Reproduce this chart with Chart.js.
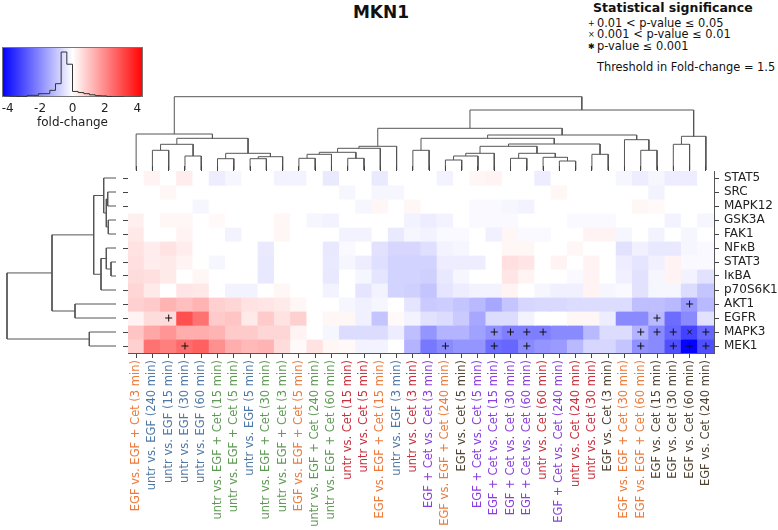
<!DOCTYPE html>
<html>
<head>
<meta charset="utf-8">
<script src="https://cdn.jsdelivr.net/npm/chart.js@4.4.0/dist/chart.umd.min.js"></script>
<style>
  body { margin: 0; width: 778px; height: 530px; background: #fff; position: relative; overflow: hidden; font-family: "DejaVu Sans", sans-serif; }
  canvas { position: absolute; }
  .txt { position: absolute; white-space: nowrap; color: #111; }
  .mk { display: inline-block; width: 9px; font-size: 8px; text-align: left; vertical-align: 1px; }
</style>
</head>
<body>

<div class="txt" style="left:331px; top:2px; width:100px; text-align:center; font-weight:bold; font-size:17px; line-height:20px;">MKN1</div>

<div class="txt" style="left:593px; top:0px; font-weight:bold; font-size:12.5px; line-height:15px;">Statistical significance</div>
<div class="txt" style="left:588px; top:16px; font-size:11.4px; line-height:14px;"><span class="mk">+</span>0.01 &lt; p-value ≤ 0.05</div>
<div class="txt" style="left:588px; top:27px; font-size:11.4px; line-height:14px;"><span class="mk">×</span>0.001 &lt; p-value ≤ 0.01</div>
<div class="txt" style="left:588px; top:38.5px; font-size:11.4px; line-height:14px;"><span class="mk">✱</span>p-value ≤ 0.001</div>
<div class="txt" style="left:597px; top:59.5px; font-size:11.4px; line-height:14px;">Threshold in Fold-change = 1.5</div>

<canvas id="colorbar" width="160" height="95" style="left:0px; top:40px;"></canvas>
<canvas id="topDendro" width="586" height="80" style="left:128px; top:90px;"></canvas>
<canvas id="leftDendro" width="116" height="182" style="left:0px; top:171px;"></canvas>
<canvas id="heatmap" width="658" height="367" style="left:120px; top:163px;"></canvas>

<script>
/* ===== DATA ===== */
const colLabels = [
  "EGF vs. EGF + Cet (3 min)", "untr vs. EGF (240 min)", "untr vs. EGF (15 min)", "untr vs. EGF (30 min)",
  "untr vs. EGF (60 min)", "untr vs. EGF + Cet (15 min)", "untr vs. EGF + Cet (5 min)", "untr vs. EGF (5 min)",
  "untr vs. EGF + Cet (30 min)", "untr vs. EGF + Cet (3 min)", "EGF vs. EGF + Cet (5 min)", "untr vs. EGF + Cet (240 min)",
  "untr vs. EGF + Cet (60 min)", "untr vs. Cet (15 min)", "untr vs. Cet (5 min)", "EGF vs. EGF + Cet (15 min)",
  "untr vs. EGF (3 min)", "untr vs. Cet (3 min)", "EGF + Cet vs. Cet (3 min)", "EGF vs. EGF + Cet (240 min)",
  "EGF vs. Cet (5 min)", "EGF + Cet vs. Cet (5 min)", "EGF + Cet vs. Cet (15 min)", "EGF + Cet vs. Cet (30 min)",
  "EGF + Cet vs. Cet (60 min)", "untr vs. Cet (60 min)", "EGF + Cet vs. Cet (240 min)", "untr vs. Cet (240 min)",
  "untr vs. Cet (30 min)", "EGF vs. Cet (3 min)", "EGF vs. EGF + Cet (30 min)", "EGF vs. EGF + Cet (60 min)",
  "EGF vs. Cet (15 min)", "EGF vs. Cet (30 min)", "EGF vs. Cet (60 min)", "EGF vs. Cet (240 min)"
];

const rowNames = ["STAT5", "SRC", "MAPK12", "GSK3A", "FAK1", "NFκB", "STAT3", "IκBA", "p70S6K1", "AKT1", "EGFR", "MAPK3", "MEK1"];

// fold-change per row (STAT5 ... MEK1), 36 columns each
const stat5   = [0, 0.2, 0, 0.3, 0, -0.3, -0.15, 0, 0, -0.2, -0.2, 0, -0.35, 0, 0, -0.35, 0, 0, 0, -0.2, 0, 0.15, 0.2, 0, 0, -0.3, 0, 0, 0, 0, -0.15, -0.3, -0.15, -0.3, -0.3, 0];
const src     = [0, 0, 0.15, 0, 0, 0, 0, 0, 0, 0, 0, 0, 0, -0.15, 0, -0.15, -0.15, 0, 0, 0, 0, 0, 0, 0, 0, 0, 0.15, 0, 0, 0, 0, 0, -0.2, 0, 0, 0];
const mapk12  = [0, 0, 0, 0, -0.15, 0, 0, 0, 0, 0, 0, 0, 0, 0, -0.15, 0.15, 0, 0.15, 0, 0, 0, -0.1, -0.1, -0.15, -0.2, 0, 0, 0, 0, 0, 0, 0.15, 0.1, 0, 0, 0];
const gsk3a   = [0.25, 0, 0.15, 0.15, 0, 0.1, 0, 0, 0, 0.15, 0, -0.15, -0.2, 0, 0, 0, 0, -0.2, -0.3, -0.2, 0, -0.1, -0.1, -0.1, 0, 0, 0, -0.1, -0.1, -0.1, 0, 0, 0, -0.2, 0, -0.15];
const fak1    = [0.4, 0, 0, 0.2, 0, 0, -0.2, 0, 0, 0.15, 0, 0, 0, -0.2, -0.2, 0, -0.35, -0.15, -0.2, -0.1, -0.1, 0, -0.25, 0.15, -0.1, -0.1, 0, 0, 0.2, 0.2, -0.15, 0, -0.2, 0, -0.15, 0];
const nfkb    = [0.5, 0.3, 0.5, 0.3, 0, 0, 0, 0, -0.35, 0, 0, 0, -0.4, -0.1, 0, -0.5, -0.7, -0.7, -0.55, -0.2, -0.15, 0, 0, 0.15, 0.15, 0, 0, 0.15, 0, 0, -0.5, -0.25, -0.4, -0.4, -0.15, -0.1];
const stat3   = [0.55, 0.3, 0.35, 0.2, 0, -0.15, 0, 0, -0.4, 0, 0, 0, -0.35, -0.15, -0.3, -0.55, -0.75, -0.75, -0.75, -0.3, -0.3, -0.3, 0, 0.55, 0.45, 0, 0.2, 0, 0.2, 0, -0.3, -0.45, -0.25, 0.2, -0.1, -0.1];
const ikba    = [0.6, 0.55, 0.35, 0, 0.15, 0, 0, 0, -0.4, 0, 0, 0, -0.4, 0, -0.15, -0.45, -0.75, -0.75, -0.8, -0.4, -0.15, 0, 0, 0.45, 0.2, 0, 0, -0.1, 0.2, 0, -0.25, -0.5, -0.15, 0.2, -0.2, -0.5];
const p70s6k1 = [0.7, 0.35, 0, 0.45, 0.4, 0, -0.2, -0.2, 0, 0.15, 0, 0, -0.2, 0, -0.45, -0.2, -0.75, -0.8, -1.0, -0.45, -0.3, -0.2, -0.2, 0.2, 0, -0.15, -0.25, -0.25, 0.2, -0.15, -0.1, -0.5, -0.15, -0.15, -0.6, -1.0];
const akt1    = [0.8, 0.9, 1.3, 1.1, 1.3, 0.8, 0.7, 0.5, 0.45, 0.35, 0.15, 0, 0, -0.15, -0.25, -0.15, 0, -0.45, -0.9, -0.85, -1.0, -1.2, -1.5, -1.0, -0.7, -0.65, -0.65, -0.6, -0.6, -0.6, -0.6, -1.1, -1.1, -1.2, -1.7, -1.2];
const egfr    = [0.2, 0.6, 0.6, 3.0, 2.4, 0.9, 1.0, 0.35, 0.9, 0.5, 0.8, 0, 0.15, 0.15, -0.25, -1.0, 0.1, -0.2, -0.5, -0.6, -0.9, -1.5, -0.6, -0.6, -0.2, 0, 0, 0.15, 0.15, -0.3, -2.0, -2.0, -1.2, -2.5, -2.0, -0.5];
const mapk3   = [1.0, 1.5, 1.8, 1.4, 1.4, 1.3, 0.9, 0.9, 0.7, 0.7, 0.2, 0, -0.15, -0.6, -0.6, -0.6, -0.3, -1.1, -1.8, -1.3, -1.3, -1.6, -1.9, -2.2, -2.2, -2.2, -2.0, -2.0, -1.2, -0.6, -0.6, -1.3, -2.0, -2.6, -3.2, -2.6];
const mek1    = [0.8, 2.4, 2.2, 2.5, 2.7, 1.9, 1.4, 1.2, 1.3, 0.6, 0.1, 0.5, 0.15, 0.1, -0.2, -0.2, 0, -1.3, -2.3, -2.0, -1.8, -1.8, -2.5, -2.6, -2.0, -1.8, -1.7, -1.2, -0.7, -0.7, -1.0, -1.9, -2.0, -3.0, -4.3, -3.0];
const heatValues = [stat5, src, mapk12, gsk3a, fak1, nfkb, stat3, ikba, p70s6k1, akt1, egfr, mapk3, mek1];

// significant cells as [row, column]
const sigPlus = [[10, 2], [12, 3], [12, 19], [11, 22], [12, 22], [11, 23], [11, 24], [12, 24], [11, 25],
                 [11, 31], [12, 31], [10, 32], [11, 32], [11, 33], [12, 33], [9, 34], [12, 34], [11, 35], [12, 35]];
const sigCross = [[11, 34]];

// column dendrogram: [child a, child b, height]; ids >= 36 are earlier merges
const colMerges = [
  [1, 2, 1.97], [3, 4, 1.40], [36, 37, 2.57], [5, 6, 1.13], [7, 8, 1.13], [40, 9, 1.33], [39, 41, 1.67],
  [38, 42, 3.17], [0, 43, 3.60], [10, 11, 1.17], [45, 12, 1.57], [13, 14, 1.17], [46, 47, 1.77],
  [48, 15, 2.17], [49, 16, 2.37], [17, 18, 1.97], [19, 20, 1.00], [52, 21, 1.40], [53, 22, 1.67],
  [23, 24, 1.17], [26, 27, 0.90], [25, 56, 1.27], [55, 57, 1.67], [54, 58, 2.37], [28, 29, 1.57],
  [59, 60, 2.60], [51, 61, 3.17], [31, 32, 1.97], [30, 63, 3.03], [62, 64, 3.50], [50, 65, 4.17],
  [33, 34, 2.57], [67, 35, 3.37], [66, 68, 6.00], [44, 69, 7.33]
];

// row dendrogram: ids >= 13 are earlier merges
const rowMerges = [
  [1, 2, 0.83], [3, 4, 0.77], [13, 14, 0.97], [0, 15, 1.23], [6, 7, 0.50], [5, 17, 0.97],
  [18, 8, 1.50], [16, 19, 2.23], [9, 10, 4.10], [20, 21, 6.40], [11, 12, 2.67], [22, 23, 10.90]
];

// histogram of fold-changes on the colour bar
const histEdges = [-4.2, -3.85, -3.5, -3.15, -2.8, -2.45, -2.1, -1.75, -1.4, -1.05, -0.7, -0.35, 0,
                   0.35, 0.7, 1.05, 1.4, 1.75, 2.1, 2.45, 2.8, 3.15, 3.5, 3.85, 4.2];
const histCounts = [0, 0, 1, 2, 2, 6, 6, 12, 12, 24, 48, 162, 118, 20, 16, 12, 8, 5, 4, 2, 1, 1, 0, 0];
const cbTicks = [-4, -2, 0, 2, 4];

/* ===== STYLE ===== */
const fcMax = 4.35;
const groupColors = {
  "EGF vs. EGF + Cet": "#ec7a3c",
  "untr vs. EGF": "#4e79a7",
  "untr vs. EGF + Cet": "#5f9a55",
  "untr vs. Cet": "#c8313d",
  "EGF + Cet vs. Cet": "#8a3de0",
  "EGF vs. Cet": "#4f4232"
};
const lineGray = "#555";

Chart.defaults.font.family = "'DejaVu Sans', sans-serif";
Chart.defaults.animation = false;
Chart.defaults.plugins.legend.display = false;
Chart.defaults.plugins.tooltip.enabled = false;

// blue - white - red, like matplotlib bwr
function fcColor(v) {
  const t = Math.max(-1, Math.min(1, v / fcMax));
  const k = Math.round(255 * (1 - Math.abs(t)));
  return t >= 0 ? `rgb(255,${k},${k})` : `rgb(${k},${k},255)`;
}

function labelColor(label) {
  return groupColors[label.slice(0, label.indexOf(" ("))] || "#222";
}

/* ===== DENDROGRAM LINKS ===== */
function dendroLinks(merges, leafCount) {
  const pos = [], hgt = [];
  for (let i = 0; i < leafCount; i++) { pos.push(i + 0.5); hgt.push(0); }
  return merges.map(([a, b, h]) => {
    const link = [[pos[a], hgt[a]], [pos[a], h], [pos[b], h], [pos[b], hgt[b]]];
    pos.push((pos[a] + pos[b]) / 2);
    hgt.push(h);
    return link;
  });
}

const noPad = s => { s.paddingLeft = 0; s.paddingRight = 0; s.paddingTop = 0; s.paddingBottom = 0; };

/* ===== TOP DENDROGRAM ===== */
new Chart(document.getElementById("topDendro"), {
  type: "scatter",
  data: {
    datasets: dendroLinks(colMerges, colLabels.length).map(link => ({
      data: link.map(([p, h]) => ({ x: p, y: h })),
      showLine: true, pointRadius: 0, borderColor: lineGray, borderWidth: 1, clip: false
    }))
  },
  options: {
    responsive: false,
    layout: { padding: 0, autoPadding: false },
    scales: {
      x: { type: "linear", min: 0, max: colLabels.length, display: false },
      y: { type: "linear", min: 0, max: 8, display: false }
    }
  }
});

/* ===== LEFT DENDROGRAM ===== */
new Chart(document.getElementById("leftDendro"), {
  type: "scatter",
  data: {
    datasets: dendroLinks(rowMerges, rowNames.length).map(link => ({
      data: link.map(([p, h]) => ({ x: h, y: p })),
      showLine: true, pointRadius: 0, borderColor: lineGray, borderWidth: 1, clip: false
    }))
  },
  options: {
    responsive: false,
    layout: { padding: 0, autoPadding: false },
    scales: {
      x: { type: "linear", min: 0, max: 11.6, reverse: true, display: false },
      y: { type: "linear", min: 0, max: rowNames.length, reverse: true, display: false }
    }
  }
});

/* ===== HEATMAP ===== */
const cellDatasets = rowNames.map((name, r) => ({
  type: "bar",
  label: name,
  data: colLabels.map(() => [r, r + 1]),
  backgroundColor: heatValues[r].map(fcColor),
  borderWidth: 0,
  inflateAmount: 0.6,
  barPercentage: 1,
  categoryPercentage: 1,
  grouped: false
}));

const markerSet = (cells, style, radius) => ({
  type: "scatter",
  data: cells.map(([r, c]) => ({ x: colLabels[c], y: r + 0.5 })),
  pointStyle: style,
  pointRadius: radius,
  borderColor: "#111",
  borderWidth: 1,
  order: -1
});

const tickGrid = { drawOnChartArea: false, offset: false, tickLength: 5, color: "#444" };
const edge = { display: true, color: "#555", width: 1 };
const rowTicks = s => { s.ticks = rowNames.map((n, i) => ({ value: i + 0.5 })); };

new Chart(document.getElementById("heatmap"), {
  type: "bar",
  data: {
    labels: colLabels,
    datasets: [...cellDatasets, markerSet(sigPlus, "cross", 3.5), markerSet(sigCross, "crossRot", 3)]
  },
  options: {
    responsive: false,
    layout: { padding: 0, autoPadding: false },
    scales: {
      x: {
        type: "category", position: "bottom", offset: true,
        grid: tickGrid, border: edge,
        ticks: {
          autoSkip: false, minRotation: 90, maxRotation: 90, padding: 2,
          font: { size: 11.5 },
          color: ctx => labelColor(colLabels[ctx.index])
        },
        afterFit: s => { s.height = 177; noPad(s); }
      },
      xTop: {
        type: "category", position: "top", offset: true, labels: colLabels,
        grid: tickGrid, border: edge,
        ticks: { display: false },
        afterFit: s => { s.height = 8; noPad(s); }
      },
      y: {
        type: "linear", position: "right", min: 0, max: rowNames.length, reverse: true,
        afterBuildTicks: rowTicks,
        grid: tickGrid, border: edge,
        ticks: { autoSkip: false, padding: 5, font: { size: 12 }, color: "#222", callback: (v, i) => rowNames[i] },
        afterFit: s => { s.width = 64; noPad(s); }
      },
      yLeft: {
        type: "linear", position: "left", min: 0, max: rowNames.length, reverse: true,
        afterBuildTicks: rowTicks,
        grid: tickGrid, border: edge,
        ticks: { display: false },
        afterFit: s => { s.width = 8; noPad(s); }
      }
    }
  }
});

/* ===== COLOUR BAR ===== */
const gradientFill = {
  id: "gradientFill",
  beforeDatasetsDraw(chart) {
    const { ctx, chartArea: a } = chart;
    const g = ctx.createLinearGradient(a.left, 0, a.right, 0);
    g.addColorStop(0, "rgb(0,0,255)");
    g.addColorStop(0.5, "rgb(255,255,255)");
    g.addColorStop(1, "rgb(255,0,0)");
    ctx.save();
    ctx.fillStyle = g;
    ctx.fillRect(a.left, a.top, a.right - a.left, a.bottom - a.top);
    ctx.strokeStyle = "#777";
    ctx.lineWidth = 1;
    ctx.strokeRect(a.left + 0.5, a.top + 0.5, a.right - a.left - 1, a.bottom - a.top - 1);
    ctx.restore();
  }
};

const histPoints = [{ x: histEdges[0], y: 0 }]
  .concat(histCounts.map((c, i) => ({ x: histEdges[i], y: c })))
  .concat([{ x: histEdges[histEdges.length - 1], y: 0 }]);

new Chart(document.getElementById("colorbar"), {
  type: "scatter",
  data: {
    datasets: [{
      data: histPoints, showLine: true, stepped: "after", pointRadius: 0,
      borderColor: "#333", borderWidth: 1
    }]
  },
  options: {
    responsive: false,
    layout: { padding: { left: 2, right: 17, top: 7, bottom: 5 }, autoPadding: false },
    scales: {
      x: {
        type: "linear", min: -fcMax, max: fcMax,
        afterBuildTicks: s => { s.ticks = cbTicks.map(v => ({ value: v })); },
        grid: { display: false, drawTicks: false }, border: { display: false },
        ticks: { padding: 5, font: { size: 12 }, color: "#222" },
        title: { display: true, text: "fold-change", font: { size: 12 }, color: "#222", padding: { top: 0, bottom: 0 } },
        afterFit: s => { s.height = 33; noPad(s); }
      },
      y: { type: "linear", min: 0, max: 180, display: false }
    }
  },
  plugins: [gradientFill]
});
</script>
</body>
</html>
